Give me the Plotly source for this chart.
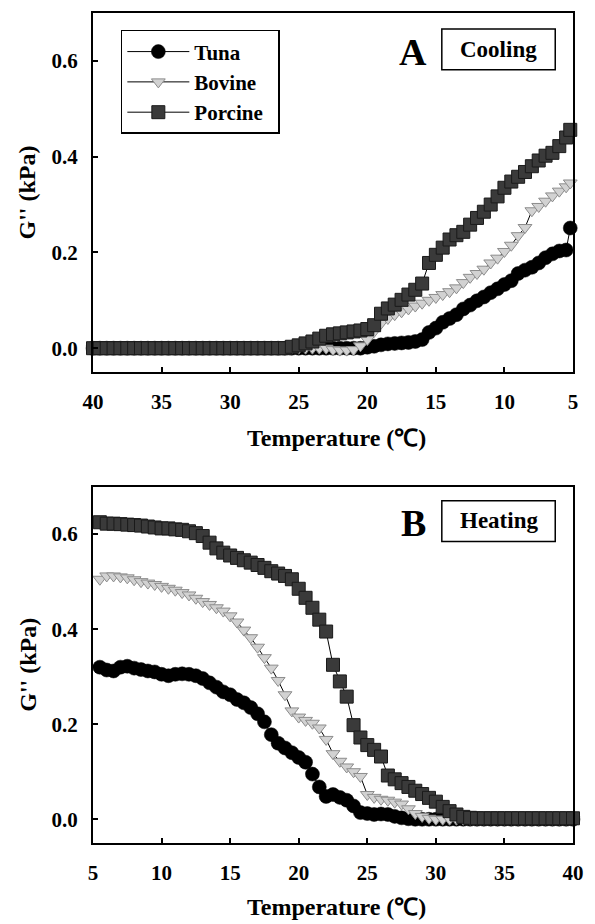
import plotly.graph_objects as go

# ---------------- data ----------------
cool_temp = [40, 39.5, 39, 38.5, 38, 37.5, 37, 36.5, 36, 35.5, 35, 34.5, 34, 33.5, 33, 32.5,
             32, 31.5, 31, 30.5, 30, 29.5, 29, 28.5, 28, 27.5, 27, 26.5, 26, 25.5, 25, 24.5,
             24, 23.5, 23, 22.5, 22, 21.5, 21, 20.5, 20, 19.5, 19, 18.5, 18, 17.5, 17, 16.5,
             16, 15.5, 15, 14.5, 14, 13.5, 13, 12.5, 12, 11.5, 11, 10.5, 10, 9.5, 9, 8.5,
             8, 7.5, 7, 6.5, 6, 5.5, 5.2]

cool_tuna = [0.000, 0.000, 0.000, 0.000, 0.000, 0.000, 0.000, 0.000, 0.000, 0.000, 0.000, 0.000,
             0.000, 0.000, 0.000, 0.000, 0.000, 0.000, 0.000, 0.000, 0.000, 0.000, 0.000, 0.000,
             0.000, 0.000, 0.000, 0.000, 0.000, 0.000, 0.000, 0.000, 0.000, 0.000, 0.000, 0.000,
             0.000, 0.000, 0.000, 0.000,
             0.002, 0.004, 0.007, 0.009, 0.010, 0.011, 0.012, 0.014, 0.018, 0.033, 0.042, 0.054,
             0.062, 0.070, 0.082, 0.090, 0.099, 0.107, 0.116, 0.124, 0.133, 0.141, 0.156, 0.163,
             0.169, 0.178, 0.189, 0.197, 0.203, 0.205, 0.251]

cool_bovine = [0.000, 0.000, 0.000, 0.000, 0.000, 0.000, 0.000, 0.000, 0.000, 0.000, 0.000, 0.000,
               0.000, 0.000, 0.000, 0.000, 0.000, 0.000, 0.000, 0.000, 0.000, 0.000, 0.000, 0.000,
               0.000, 0.000, 0.000, 0.000, 0.000, 0.000, 0.000, 0.000, 0.000, 0.000,
               0.000, -0.003, -0.004, -0.004, -0.003, 0.005, 0.018, 0.035, 0.052, 0.062, 0.070, 0.076,
               0.082, 0.088, 0.094, 0.100, 0.106, 0.112, 0.118, 0.126, 0.137, 0.148, 0.156, 0.165,
               0.178, 0.188, 0.202, 0.215, 0.235, 0.252, 0.287, 0.296, 0.307, 0.318, 0.328, 0.337,
               0.345]

cool_porcine = [0.000, 0.000, 0.000, 0.000, 0.000, 0.000, 0.000, 0.000, 0.000, 0.000, 0.000, 0.000,
                0.000, 0.000, 0.000, 0.000, 0.000, 0.000, 0.000, 0.000, 0.000, 0.000, 0.000, 0.000,
                0.000, 0.000, 0.000, 0.000, 0.000,
                0.003, 0.006, 0.010, 0.014, 0.020, 0.026, 0.029, 0.031, 0.033, 0.035, 0.037, 0.040,
                0.048, 0.072, 0.083, 0.091, 0.101, 0.112, 0.122, 0.135, 0.178, 0.195, 0.210, 0.227,
                0.236, 0.243, 0.258, 0.272, 0.285, 0.300, 0.317, 0.335, 0.348, 0.358, 0.368, 0.380,
                0.392, 0.402, 0.408, 0.422, 0.440, 0.456]

heat_temp = [5.5, 6, 6.5, 7, 7.5, 8, 8.5, 9, 9.5, 10, 10.5, 11, 11.5, 12, 12.5, 13, 13.5, 14,
             14.5, 15, 15.5, 16, 16.5, 17, 17.5, 18, 18.5, 19, 19.5, 20, 20.5, 21, 21.5, 22,
             22.5, 23, 23.5, 24, 24.5, 25, 25.5, 26, 26.5, 27, 27.5, 28, 28.5, 29, 29.5, 30,
             30.5, 31, 31.5, 32, 32.5, 33, 33.5, 34, 34.5, 35, 35.5, 36, 36.5, 37, 37.5, 38,
             38.5, 39, 39.5, 40]

heat_tuna = [0.320, 0.314, 0.312, 0.320, 0.322, 0.318, 0.315, 0.312, 0.310, 0.305, 0.302, 0.305,
             0.306, 0.305, 0.302, 0.296, 0.287, 0.278, 0.268, 0.262, 0.252, 0.245, 0.235, 0.222,
             0.205, 0.178, 0.160, 0.150, 0.140, 0.130, 0.120, 0.095, 0.068, 0.048, 0.052, 0.046,
             0.040, 0.028, 0.014, 0.012, 0.010, 0.011, 0.010, 0.006, 0.003, 0.001,
             0.000, 0.000, 0.000, 0.000, 0.000, 0.000, 0.000, 0.000, 0.000, 0.000, 0.000, 0.000,
             0.000, 0.000, 0.000, 0.000, 0.000, 0.000, 0.000, 0.000, 0.000, 0.000, 0.000, 0.000]

heat_bovine = [0.505, 0.512, 0.512, 0.510, 0.508, 0.504, 0.500, 0.497, 0.494, 0.490, 0.486, 0.482,
               0.477, 0.472, 0.465, 0.458, 0.452, 0.445, 0.438, 0.428, 0.415, 0.398, 0.382, 0.362,
               0.340, 0.318, 0.292, 0.262, 0.228, 0.215, 0.208, 0.202, 0.192, 0.168, 0.138, 0.122,
               0.110, 0.100, 0.090, 0.052, 0.046, 0.042, 0.040, 0.036, 0.032, 0.022, 0.012, 0.006,
               0.002, 0.000,
               0.000, 0.000, 0.000, 0.000, 0.000, 0.000, 0.000, 0.000, 0.000, 0.000, 0.000, 0.000,
               0.000, 0.000, 0.000, 0.000, 0.000, 0.000, 0.000, 0.000]

heat_porcine = [0.625, 0.622, 0.622, 0.621, 0.620, 0.619, 0.618, 0.616, 0.614, 0.612, 0.612, 0.610,
                0.609, 0.606, 0.602, 0.596, 0.582, 0.570, 0.561, 0.555, 0.550, 0.545, 0.540, 0.535,
                0.529, 0.522, 0.517, 0.512, 0.505, 0.485, 0.466, 0.445, 0.420, 0.395, 0.325, 0.290,
                0.258, 0.198, 0.172, 0.156, 0.146, 0.132, 0.092, 0.084, 0.076, 0.068, 0.060, 0.053,
                0.045, 0.037, 0.026, 0.017, 0.010, 0.005, 0.003,
                0.002, 0.002, 0.002, 0.002, 0.002, 0.002, 0.002, 0.002, 0.002, 0.002, 0.002, 0.002,
                0.002, 0.002, 0.002]

series_names = ["Tuna", "Bovine", "Porcine"]
y_ticks = [0.0, 0.2, 0.4, 0.6]
x_ticks = [5, 10, 15, 20, 25, 30, 35, 40]

# ---------------- styles ----------------
FONT = "Liberation Serif, Times New Roman, serif"
styles = {
    "Tuna": dict(symbol="circle", size=14, color="black", line=dict(color="black", width=0.5)),
    "Bovine": dict(symbol="triangle-down", size=12, color="#d2d2d2", line=dict(color="#8c8c8c", width=1)),
    "Porcine": dict(symbol="square", size=13, color="#3a3a3a", line=dict(color="#1a1a1a", width=1)),
}

fig = go.Figure()

cool = {"Tuna": cool_tuna, "Bovine": cool_bovine, "Porcine": cool_porcine}
heat = {"Tuna": heat_tuna, "Bovine": heat_bovine, "Porcine": heat_porcine}

for name in series_names:
    fig.add_trace(go.Scatter(
        x=cool_temp, y=cool[name], mode="lines+markers", name=name + "\u00a0\u00a0",
        line=dict(color="black", width=1), marker=styles[name],
        xaxis="x", yaxis="y", cliponaxis=False, showlegend=True))
for name in series_names:
    fig.add_trace(go.Scatter(
        x=heat_temp, y=heat[name], mode="lines+markers", name=name,
        line=dict(color="black", width=1), marker=styles[name],
        xaxis="x2", yaxis="y2", cliponaxis=False, showlegend=False))

axis_common = dict(showline=True, mirror=True, linecolor="black", linewidth=2,
                   ticks="inside", ticklen=5, tickwidth=1.5, tickcolor="black",
                   showgrid=False, zeroline=False,
                   tickfont=dict(family=FONT, size=21, color="black", weight="bold"))

fig.update_layout(
    width=595, height=924,
    margin=dict(l=93, r=15, t=11, b=81),
    paper_bgcolor="white", plot_bgcolor="white",
    xaxis=dict(domain=[0, 1], anchor="y", range=[40, 5], tickvals=x_ticks,
               ticklabelstandoff=10, **axis_common),
    yaxis=dict(domain=[0.5673, 1], anchor="x", range=[-0.05, 0.70], tickvals=y_ticks,
               tickformat=".1f", ticklabelstandoff=9, **axis_common),
    xaxis2=dict(domain=[0, 1], anchor="y2", range=[5, 40], tickvals=x_ticks,
                ticklabelstandoff=10, **axis_common),
    yaxis2=dict(domain=[0, 0.4294], anchor="x2", range=[-0.05, 0.70], tickvals=y_ticks,
                tickformat=".1f", ticklabelstandoff=9, **axis_common),
    legend=dict(x=0.058, y=0.9796, xanchor="left", yanchor="top",
                bordercolor="black", borderwidth=1.5, bgcolor="white",
                font=dict(family=FONT, size=21, color="black", weight="bold"),
                itemwidth=62, tracegroupgap=0),
    showlegend=True,
)

ann_font = dict(family=FONT, color="black")
annotations = [
    dict(text="<b>A</b>", x=0.667, y=0.953, font=dict(size=38, **ann_font)),
    dict(text="<b>Cooling</b>", x=0.845, y=0.956, font=dict(size=23, **ann_font)),
    dict(text="<b>B</b>", x=0.667, y=0.386, font=dict(size=38, **ann_font)),
    dict(text="<b>Heating</b>", x=0.845, y=0.388, font=dict(size=23, **ann_font)),
    dict(text="<b>Temperature (℃)</b>", x=0.507, y=0.488, font=dict(size=24, **ann_font)),
    dict(text="<b>Temperature (℃)</b>", x=0.507, y=-0.0766, font=dict(size=24, **ann_font)),
    dict(text="<b>G'' (kPa)</b>", x=-0.137, y=0.784, textangle=-90, font=dict(size=24, **ann_font)),
    dict(text="<b>G'' (kPa)</b>", x=-0.137, y=0.215, textangle=-90, font=dict(size=24, **ann_font)),
]
for a in annotations:
    fig.add_annotation(xref="paper", yref="paper", showarrow=False,
                       xanchor="center", yanchor="middle", **a)

fig.add_shape(type="rect", xref="paper", yref="paper", x0=0.7267, x1=0.963, y0=0.9315, y1=0.9808,
              line=dict(color="black", width=1.5), fillcolor="white", layer="below")
fig.add_shape(type="rect", xref="paper", yref="paper", x0=0.7267, x1=0.963, y0=0.3634, y1=0.4123,
              line=dict(color="black", width=1.5), fillcolor="white", layer="below")

fig.write_html("out.html", config={"displayModeBar": False},
               post_script="document.body.style.margin='0';document.body.style.padding='0';")
